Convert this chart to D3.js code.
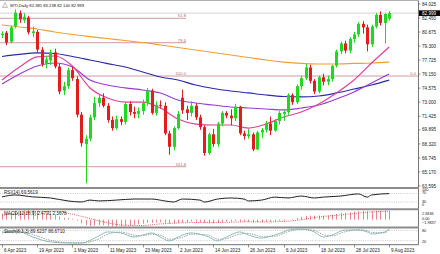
<!DOCTYPE html>
<html><head><meta charset="utf-8">
<script src="https://cdn.jsdelivr.net/npm/d3@7"></script>
<style>
html,body{margin:0;padding:0;background:#fff;overflow:hidden;}
svg{display:block;font-family:"Liberation Sans",Arial,sans-serif;}
</style></head><body>
<svg id="c" width="440" height="254"></svg>
<script>
// ---------- data ----------
const dateTickBars = [0,8,16,24,32,40,48,56,64,72,80,88];
const dateTickLabels = ["6 Apr 2023","19 Apr 2023","1 May 2023","11 May 2023","23 May 2023","2 Jun 2023","14 Jun 2023","26 Jun 2023","6 Jul 2023","18 Jul 2023","28 Jul 2023","9 Aug 2023"];
const open = [80.55,80.8,79.8,81.5,83.0,82.2,82.5,80.75,80.9,78.9,
  77.3,77.7,78.6,77.0,74.3,74.8,76.6,75.6,71.6,68.3,
  68.9,71.3,72.9,73.5,72.6,71.0,70.1,71.1,70.8,72.8,
  71.9,71.7,72.0,72.9,74.3,71.8,72.7,72.6,69.5,68.0,
  70.1,73.5,72.2,71.8,72.6,71.3,70.2,67.3,69.4,68.3,
  70.6,71.8,71.5,71.2,72.5,69.5,69.2,69.4,67.7,69.6,
  69.9,70.6,69.8,70.9,71.7,71.9,73.8,73.0,74.8,75.7,
  76.9,75.4,74.2,75.8,75.3,75.6,77.1,78.7,79.6,78.8,
  80.1,80.6,81.8,81.4,79.5,81.5,82.8,81.9,82.381];
const high = [80.95,81.0,81.6,83.4,83.3,83.0,82.7,81.5,81.1,79.2,
  78.2,78.9,79.0,77.3,75.3,76.9,77.0,75.9,71.9,69.3,
  71.6,73.6,73.9,74.0,72.9,71.4,71.5,71.4,73.0,73.1,
  72.5,72.4,73.3,74.6,74.5,73.1,73.2,73.0,69.8,70.3,
  72.0,74.4,72.6,73.1,72.9,71.6,70.4,69.6,70.0,70.8,
  72.0,72.0,72.2,72.8,72.6,69.8,70.0,69.6,69.8,70.1,
  70.9,71.4,71.1,72.0,72.2,74.0,74.0,75.0,76.0,77.3,
  77.2,75.6,76.0,76.2,76.0,77.2,78.9,79.8,79.9,80.3,
  80.9,82.0,82.1,81.7,81.7,83.0,83.2,83.0,83.238];
const low = [80.2,79.4,79.6,81.3,81.9,81.9,80.6,80.3,78.5,77.0,
  76.8,77.2,76.8,73.9,73.8,74.5,75.4,71.3,68.0,63.9,
  68.6,71.0,72.5,72.4,70.7,69.8,69.9,70.4,70.5,71.5,
  71.2,71.2,71.6,72.6,71.6,71.5,72.3,69.3,67.1,67.6,
  69.9,71.7,71.0,71.4,71.0,69.9,67.0,67.1,68.0,68.0,
  70.3,71.2,70.4,70.9,69.3,68.8,68.9,67.5,67.6,69.0,
  69.6,69.3,69.7,70.5,70.9,71.6,72.7,72.8,74.4,75.5,
  75.1,73.9,74.0,74.9,74.9,75.3,76.9,78.4,78.5,78.5,
  79.7,80.3,80.7,78.7,79.2,81.3,81.6,79.6,82.14];
const close = [80.7,79.7,81.4,83.05,82.3,82.6,80.85,80.95,78.9,77.3,
  77.8,78.6,77.0,74.2,74.8,76.6,75.7,71.6,68.4,68.9,
  71.3,72.9,73.5,72.6,71.0,70.1,71.1,70.8,72.8,71.9,
  71.7,72.0,72.9,74.3,71.8,72.7,72.6,69.5,68.0,70.1,
  71.7,72.1,71.8,72.6,71.3,70.2,67.3,69.4,68.3,70.6,
  71.8,71.5,71.2,72.5,69.5,69.2,69.4,67.7,69.6,69.9,
  70.6,69.8,70.9,71.8,71.9,73.8,73.0,74.8,75.7,76.9,
  75.4,74.2,75.8,75.3,75.6,77.1,78.7,79.6,78.8,80.1,
  80.6,81.8,81.4,79.5,81.5,82.8,81.9,82.9,82.999];

const maBars = [0,4,8,12,16,20,24,28,32,36,40,44,48,52,56,60,64,68,72,76,80,84,88];
const maOrange = [81.67,81.44,81.22,80.88,80.6,80.37,80.15,79.93,79.7,79.42,79.14,78.86,78.58,78.3,78.02,77.74,77.51,77.35,77.29,77.29,77.35,77.4,77.51];
const maBlue = [78.13,78.36,78.53,78.47,78.13,77.74,77.34,76.95,76.39,75.83,75.49,74.93,74.54,74.26,74.04,73.81,73.64,73.59,73.7,74.04,74.48,74.93,75.49];
const maPurple = [75.04,76.17,77.06,77.4,76.95,75.49,74.93,74.6,74.37,74.03,73.25,72.91,72.69,72.46,72.35,72.24,72.13,72.35,72.69,73.36,74.15,75.16,76.17];
const maMagenta = [75.49,76.95,78.08,78.19,77.06,74.6,73.47,73.02,73.02,72.35,71.11,70.55,70.44,70.44,70.1,70.55,71.34,71.9,72.8,74.03,75.49,77.4,79.2];

const priceTicks = [84.025,82.450,80.875,79.300,77.725,76.150,74.575,73.000,71.425,69.895,68.320,66.745,65.170,63.595];
const bidPrice = 82.999;
const headerText = "WTI,Daily 82.381 83.238 82.140 82.999";

const fibNames = ["61.8","78.6","100.0","161.8"];
const fibPrices = [82.42,79.68,75.94,65.76];
const fib2Names = ["0.0"];
const fib2Prices = [75.94];

const rsiBars = [0,3,7,11,15,18,20,22,26,30,34,37,39,41,45,46,49,52,55,56,59,62,65,68,71,73,77,81,83,84,88];
const rsiVals = [54,63,54,49,35,30,39,35,39,44,44,35,30,44,39,30,44,49,44,35,39,53,49,58,49,53,58,68,53,63,69.56];
const rsiLevels = [70,30];
const rsiLabelText = "RSI(14) 69.5619";

const macdMain = [1.70,1.75,1.90,2.20,2.40,2.55,
  2.68,2.60,2.35,2.00,1.70,1.55,1.30,
  0.85,0.50,0.40,0.25,-0.30,-1.00,
  -1.55,-1.75,-1.70,-1.60,-1.60,-1.75,
  -1.95,-1.98,-1.90,-1.70,-1.60,-1.50,
  -1.35,-1.15,-0.90,-0.90,-0.80,-0.75,
  -0.95,-1.15,-1.10,-0.95,-0.80,-0.70,
  -0.55,-0.55,-0.65,-0.95,-1.00,-1.05,
  -0.90,-0.70,-0.60,-0.55,-0.40,-0.50,
  -0.60,-0.65,-0.80,-0.75,-0.70,-0.60,
  -0.60,-0.50,-0.35,-0.25,0.00,0.15,
  0.45,0.75,1.05,1.15,1.10,1.15,
  1.15,1.15,1.30,1.55,1.80,1.90,
  2.05,2.20,2.35,2.40,2.30,2.35,
  2.45,2.45,2.50,2.48];
const macdSignalBars = maBars;
const macdSignal = [1.2,1.75,2.25,2.25,1.5,0.3,-0.9,-1.6,-1.65,-1.2,-0.95,-0.8,-0.8,-0.75,-0.6,-0.65,-0.5,-0.05,0.75,1.2,1.7,2.15,2.37];
const macdMax = 2.6836, macdMin = -1.9837;
const macdLabelText = "MACD(12,26,9) 2.4791 2.3678";

const stochBars = [0,4,7,11,15,18,22,24,27,30,32,34,36,38,41,43,47,49,51,54,56,59,62,64,65,68,71,73,75,78,81,83,84,87,88];
const stochK = [71,71,41,12,6,6,47,71,65,41,53,65,41,18,53,65,41,18,41,71,53,35,53,71,82,88,71,41,53,82,82,71,59,71,89.62];
const stochD = [65,75,55,22,8,6,30,58,70,52,48,58,52,28,40,58,52,28,32,58,62,45,45,62,72,86,80,55,48,72,84,78,68,66,86.67];
const stochLevels = [80,20];
const stochLabelText = "Stoch(8,3,3) 89.6237 86.6710";

// ---------- layout ----------
const axisX = 418;
const svg = d3.select("#c");
const FS = 4.6;
const x = d3.scaleLinear().domain([0,88]).range([2,389.2]);
const y = d3.scaleLinear().domain([63.595,84.025]).range([186,4]);
const yRsi = d3.scaleLinear().domain([0,100]).range([208.4,187.1]);
const yMacd = d3.scaleLinear().domain([macdMin,macdMax]).range([226.7,210]);
const ySto = d3.scaleLinear().domain([0,100]).range([244,227]);

const defs = svg.append("defs");
defs.append("clipPath").attr("id","cm").append("rect").attr("x",0).attr("y",1).attr("width",axisX).attr("height",186);

svg.append("rect").attr("width",440).attr("height",254).attr("fill","#fff");

const main = svg.append("g").attr("clip-path","url(#cm)");

// fib levels
const fibG = main.append("g");
fibPrices.forEach((p,i)=>{
  fibG.append("line").attr("x1",0).attr("x2",186).attr("y1",y(p)).attr("y2",y(p))
    .attr("stroke","#c99090").attr("stroke-width",0.9);
  fibG.append("text").attr("x",186).attr("y",y(p)-1).attr("text-anchor","end")
    .attr("font-size",4.2).attr("fill","#b07070").text(fibNames[i]);
});
fib2Prices.forEach((p,i)=>{
  fibG.append("line").attr("x1",186).attr("x2",axisX).attr("y1",y(p)).attr("y2",y(p))
    .attr("stroke","#c99090").attr("stroke-width",0.9);
  fibG.append("text").attr("x",axisX-2).attr("y",y(p)-1).attr("text-anchor","end")
    .attr("font-size",4.2).attr("fill","#b07070").text(fib2Names[i]);
});
// bid line
main.append("line").attr("x1",0).attr("x2",axisX).attr("y1",y(bidPrice)).attr("y2",y(bidPrice))
  .attr("stroke","#c8c8c8").attr("stroke-width",0.8);

// moving averages
const maLine = d3.line().x((d)=>x(d[0])).y((d)=>y(d[1])).curve(d3.curveMonotoneX);
[[maOrange,"#f0a030"],[maBlue,"#2a2aa8"],[maPurple,"#9a3ccf"],[maMagenta,"#e0409a"]].forEach(([arr,col])=>{
  main.append("path").attr("d",maLine(maBars.map((b,i)=>[b,arr[i]])))
    .attr("fill","none").attr("stroke",col).attr("stroke-width",1.2);
});

// candles
const bull="#1fd81f", bear="#e51c1c";
const cg = main.append("g");
d3.range(open.length).forEach(i=>{
  const up = close[i]>=open[i];
  const col = up?bull:bear;
  const cx = Math.round(x(i))+0.5;
  cg.append("line").attr("x1",cx).attr("x2",cx).attr("y1",y(high[i])).attr("y2",y(low[i]))
    .attr("stroke",col).attr("stroke-width",1);
  const t = y(Math.max(open[i],close[i])), b = y(Math.min(open[i],close[i]));
  cg.append("rect").attr("x",cx-1.5).attr("y",t).attr("width",3).attr("height",Math.max(1,b-t)).attr("fill",col);
});

// header
svg.append("path").attr("d","M2.5,7.5 L5,2.5 L7.5,7.5 Z").attr("fill","#f4f4f4").attr("stroke","#999").attr("stroke-width",0.6);
svg.append("text").attr("x",10).attr("y",7).attr("font-size",4.2).attr("fill","#111").text(headerText);

// right price axis
svg.append("line").attr("x1",axisX+0.5).attr("x2",axisX+0.5).attr("y1",0).attr("y2",245).attr("stroke","#777").attr("stroke-width",1);
priceTicks.forEach(p=>{
  svg.append("line").attr("x1",axisX).attr("x2",axisX+2.5).attr("y1",y(p)).attr("y2",y(p)).attr("stroke","#555").attr("stroke-width",0.6);
  svg.append("text").attr("x",422).attr("y",y(p)+1.6).attr("font-size",FS).attr("fill","#222").text(d3.format(".3f")(p));
});
svg.append("rect").attr("x",axisX+1).attr("y",y(bidPrice)-2.8).attr("width",21).attr("height",5.6).attr("fill","#000");
svg.append("text").attr("x",422).attr("y",y(bidPrice)+1.6).attr("font-size",FS).attr("fill","#fff").text(d3.format(".3f")(bidPrice));

// separators
[[188,2],[209.2,2],[227.4,2],[244.6,1.4]].forEach(([yy,w])=>{
  svg.append("line").attr("x1",0).attr("x2",axisX+1).attr("y1",yy).attr("y2",yy).attr("stroke","#8c8c8c").attr("stroke-width",w);
});
svg.append("line").attr("x1",0).attr("x2",axisX+1).attr("y1",0.5).attr("y2",0.5).attr("stroke","#b0b0b0").attr("stroke-width",1);

// RSI
rsiLevels.forEach(v=>{
  svg.append("line").attr("x1",0).attr("x2",axisX).attr("y1",yRsi(v)).attr("y2",yRsi(v))
    .attr("stroke","#aaa").attr("stroke-width",0.6).attr("stroke-dasharray","1,1.2");
});
svg.append("path").attr("d",d3.line().x(d=>x(d[0])).y(d=>yRsi(d[1])).curve(d3.curveMonotoneX)(rsiBars.map((b,i)=>[b,rsiVals[i]])))
  .attr("fill","none").attr("stroke","#222").attr("stroke-width",1);
svg.append("text").attr("x",4).attr("y",193.5).attr("font-size",FS).attr("fill","#222").text(rsiLabelText);
[["100",190.8],["70",193.6],["30",203.2],["0",206.2]].forEach(([t,yy])=>{
  svg.append("text").attr("x",422).attr("y",yy).attr("font-size",3.8).attr("fill","#222").text(t);
});

// MACD
const mg = svg.append("g");
macdMain.forEach((v,i)=>{
  const cx = Math.round(x(i))+0.5;
  mg.append("line").attr("x1",cx).attr("x2",cx).attr("y1",yMacd(0)).attr("y2",yMacd(v))
    .attr("stroke","#e46a6a").attr("stroke-width",0.8);
});
mg.append("path").attr("d",d3.line().x(d=>x(d[0])).y(d=>yMacd(d[1])).curve(d3.curveMonotoneX)(macdSignalBars.map((b,i)=>[b,macdSignal[i]])))
  .attr("fill","none").attr("stroke","#e03030").attr("stroke-width",0.8).attr("stroke-dasharray","1,1.2");
svg.append("text").attr("x",4).attr("y",215).attr("font-size",FS).attr("fill","#222").text(macdLabelText);
[[d3.format(".4f")(macdMax),215.4],["0.00",220.4],[d3.format(".4f")(macdMin),223.6]].forEach(([t,yy])=>{
  svg.append("text").attr("x",422).attr("y",yy).attr("font-size",3.8).attr("fill","#222").text(t);
});

// Stochastic
stochLevels.forEach(v=>{
  svg.append("line").attr("x1",0).attr("x2",axisX).attr("y1",ySto(v)).attr("y2",ySto(v))
    .attr("stroke","#aaa").attr("stroke-width",0.6).attr("stroke-dasharray","1,1.2");
});
const sl = d3.line().x(d=>x(d[0])).y(d=>ySto(d[1])).curve(d3.curveMonotoneX);
svg.append("path").attr("d",sl(stochBars.map((b,i)=>[b,stochD[i]])))
  .attr("fill","none").attr("stroke","#8a8a8a").attr("stroke-width",0.8).attr("stroke-dasharray","1.5,1");
svg.append("path").attr("d",sl(stochBars.map((b,i)=>[b,stochK[i]])))
  .attr("fill","none").attr("stroke","#7fb5b0").attr("stroke-width",0.9);
svg.append("text").attr("x",4).attr("y",233).attr("font-size",FS).attr("fill","#222").text(stochLabelText);
[["80",232],["20",243]].forEach(([t,yy])=>{
  svg.append("text").attr("x",422).attr("y",yy).attr("font-size",3.8).attr("fill","#222").text(t);
});

// date axis
dateTickBars.forEach((b,i)=>{
  const cx = Math.round(x(b))+0.5;
  svg.append("line").attr("x1",cx).attr("x2",cx).attr("y1",244.6).attr("y2",247.5).attr("stroke","#555").attr("stroke-width",0.6);
  svg.append("text").attr("x",cx+1.5).attr("y",251.5).attr("font-size",FS).attr("fill","#222").text(dateTickLabels[i]);
});
</script>
</body></html>
